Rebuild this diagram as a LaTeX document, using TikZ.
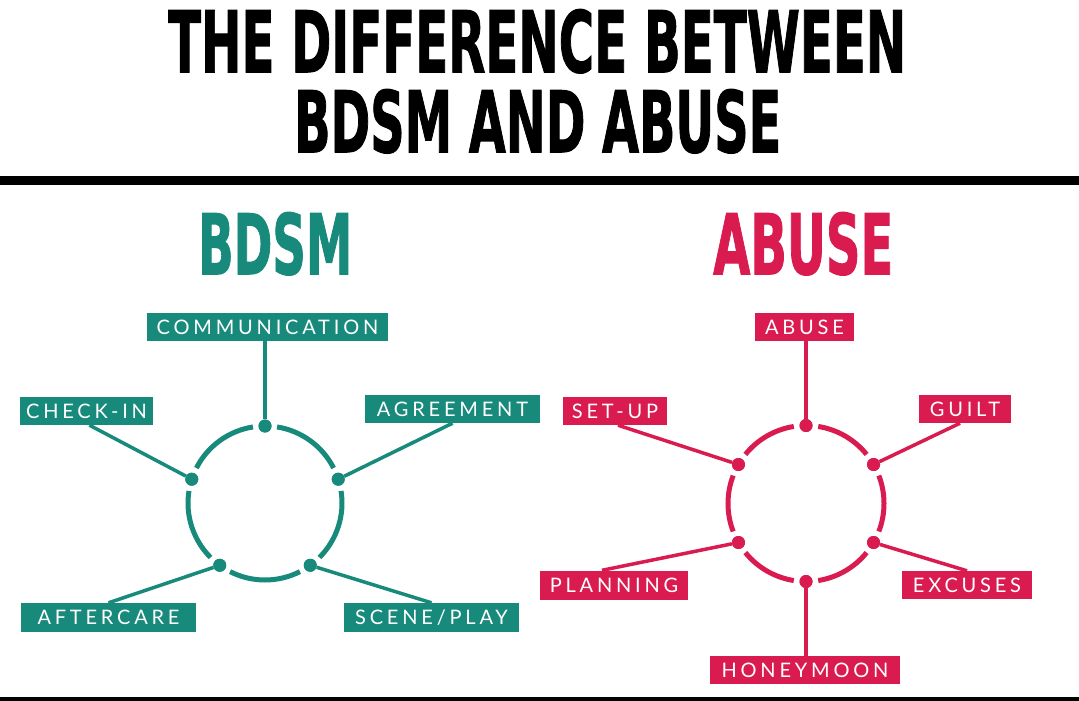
\documentclass[tikz,border=0pt]{standalone}
\usepackage{fontspec}
\usepackage{graphicx}
\usetikzlibrary{calc}
\newfontfamily\titlefont{DejaVu Sans}[BoldFeatures={FakeBold=1.5}]
\newfontfamily\labelfont{Lato}[LetterSpace=19]
\definecolor{bcol}{HTML}{178A7B}
\definecolor{acol}{HTML}{D91B50}
\tikzset{
  dotb/.style={circle, fill=bcol, inner sep=0pt, minimum size=13pt},
  dota/.style={circle, fill=acol, inner sep=0pt, minimum size=13pt},
  labb/.style={fill=bcol, text=white, font=\labelfont\fontsize{20}{20}\selectfont, inner sep=0pt, minimum height=28pt},
  laba/.style={fill=acol, text=white, font=\labelfont\fontsize{20}{20}\selectfont, inner sep=0pt, minimum height=28pt},
  lineb/.style={draw=bcol, line width=3.5pt},
  linea/.style={draw=acol, line width=3.5pt},
  arcb/.style={draw=bcol, line width=5pt},
  arca/.style={draw=acol, line width=5pt},
  headtxt/.style={anchor=north west, inner sep=0pt},
}
\begin{document}
\begin{tikzpicture}[x=1pt,y=-1pt]
\useasboundingbox (0,0) rectangle (1079,701);
\fill[white] (0,0) rectangle (1079,701);

% title
\node[headtxt] (t1) at (168,9) {\resizebox{738pt}{63pt}{\titlefont\bfseries THE DIFFERENCE BETWEEN}};
\node[headtxt] (t2) at (294,89) {\resizebox{487pt}{63pt}{\titlefont\bfseries BDSM AND ABUSE}};
\fill[black] (0,176) rectangle (1079,185);
\fill[black] (0,697) rectangle (1079,701);

% headings
\node[headtxt, text=bcol] (bh) at (198,212) {\resizebox{154pt}{62pt}{\titlefont\bfseries BDSM}};
\node[headtxt, text=acol] (ah) at (713,212) {\resizebox{180pt}{62pt}{\titlefont\bfseries ABUSE}};

% ---------- BDSM ----------
\coordinate (bc) at (265,503);
\foreach \s/\e in {27/81, 99/153, 171/225, 243/297, 315/369}{
  \draw[arcb] ($(bc)+(\s:77pt)$) arc[start angle=\s, end angle=\e, radius=77pt];
}
\node[dotb] (b1) at ($(bc)+(90:77pt)$) {};
\node[dotb] (b2) at ($(bc)+(162:77pt)$) {};
\node[dotb] (b3) at ($(bc)+(18:77pt)$) {};
\node[dotb] (b4) at ($(bc)+(234:77pt)$) {};
\node[dotb] (b5) at ($(bc)+(306:77pt)$) {};

\node[labb, minimum width=241pt] (comm) at (267.5,327) {COMMUNICATION};
\node[labb, minimum width=133pt] (chk) at (86.5,411) {CHECK-IN};
\node[labb, minimum width=175pt] (agr) at (452.5,409) {AGREEMENT};
\node[labb, minimum width=175pt, minimum height=29pt] (aft) at (108.5,617.5) {AFTERCARE};
\node[labb, minimum width=175pt, minimum height=29pt] (scn) at (431.5,617.5) {SCENE/PLAY};

\draw[lineb] (comm.south -| b1) -- (b1);
\draw[lineb] ([xshift=3pt]chk.south) -- (b2);
\draw[lineb] (agr.south) -- (b3);
\draw[lineb] (aft.north) -- (b4);
\draw[lineb] (scn.north) -- (b5);
\node[dotb] at (b1) {};
\node[dotb] at (b2) {};
\node[dotb] at (b3) {};
\node[dotb] at (b4) {};
\node[dotb] at (b5) {};

% ---------- ABUSE ----------
\coordinate (ac) at (806,503.5);
\foreach \s/\e in {39/81, 99/141, 159/201, 219/261, 279/321, 339/381}{
  \draw[arca] ($(ac)+(\s:78pt)$) arc[start angle=\s, end angle=\e, radius=78pt];
}
\node[dota] (a1) at ($(ac)+(90:78pt)$) {};
\node[dota] (a2) at ($(ac)+(150:78pt)$) {};
\node[dota] (a3) at ($(ac)+(30:78pt)$) {};
\node[dota] (a4) at ($(ac)+(210:78pt)$) {};
\node[dota] (a5) at ($(ac)+(330:78pt)$) {};
\node[dota] (a6) at ($(ac)+(270:78pt)$) {};

\node[laba, minimum width=99pt] (abu) at (804.5,327) {ABUSE};
\node[laba, minimum width=104pt] (set) at (615,411) {SET-UP};
\node[laba, minimum width=92pt] (gui) at (965,409) {GUILT};
\node[laba, minimum width=148pt, minimum height=29pt] (pla) at (614,585) {PLANNING};
\node[laba, minimum width=130pt] (exc) at (967,585) {EXCUSES};
\node[laba, minimum width=190pt] (hon) at (805,670) {HONEYMOON};

\draw[linea] (abu.south -| a1) -- (a1);
\draw[linea] ([xshift=3pt]set.south) -- (a2);
\draw[linea] ([xshift=-5pt]gui.south) -- (a3);
\draw[linea] ([xshift=-12pt]pla.north) -- (a4);
\draw[linea] (exc.north) -- (a5);
\draw[linea] (hon.north -| a6) -- (a6);
\node[dota] at (a1) {};
\node[dota] at (a2) {};
\node[dota] at (a3) {};
\node[dota] at (a4) {};
\node[dota] at (a5) {};
\node[dota] at (a6) {};
\end{tikzpicture}
\end{document}
